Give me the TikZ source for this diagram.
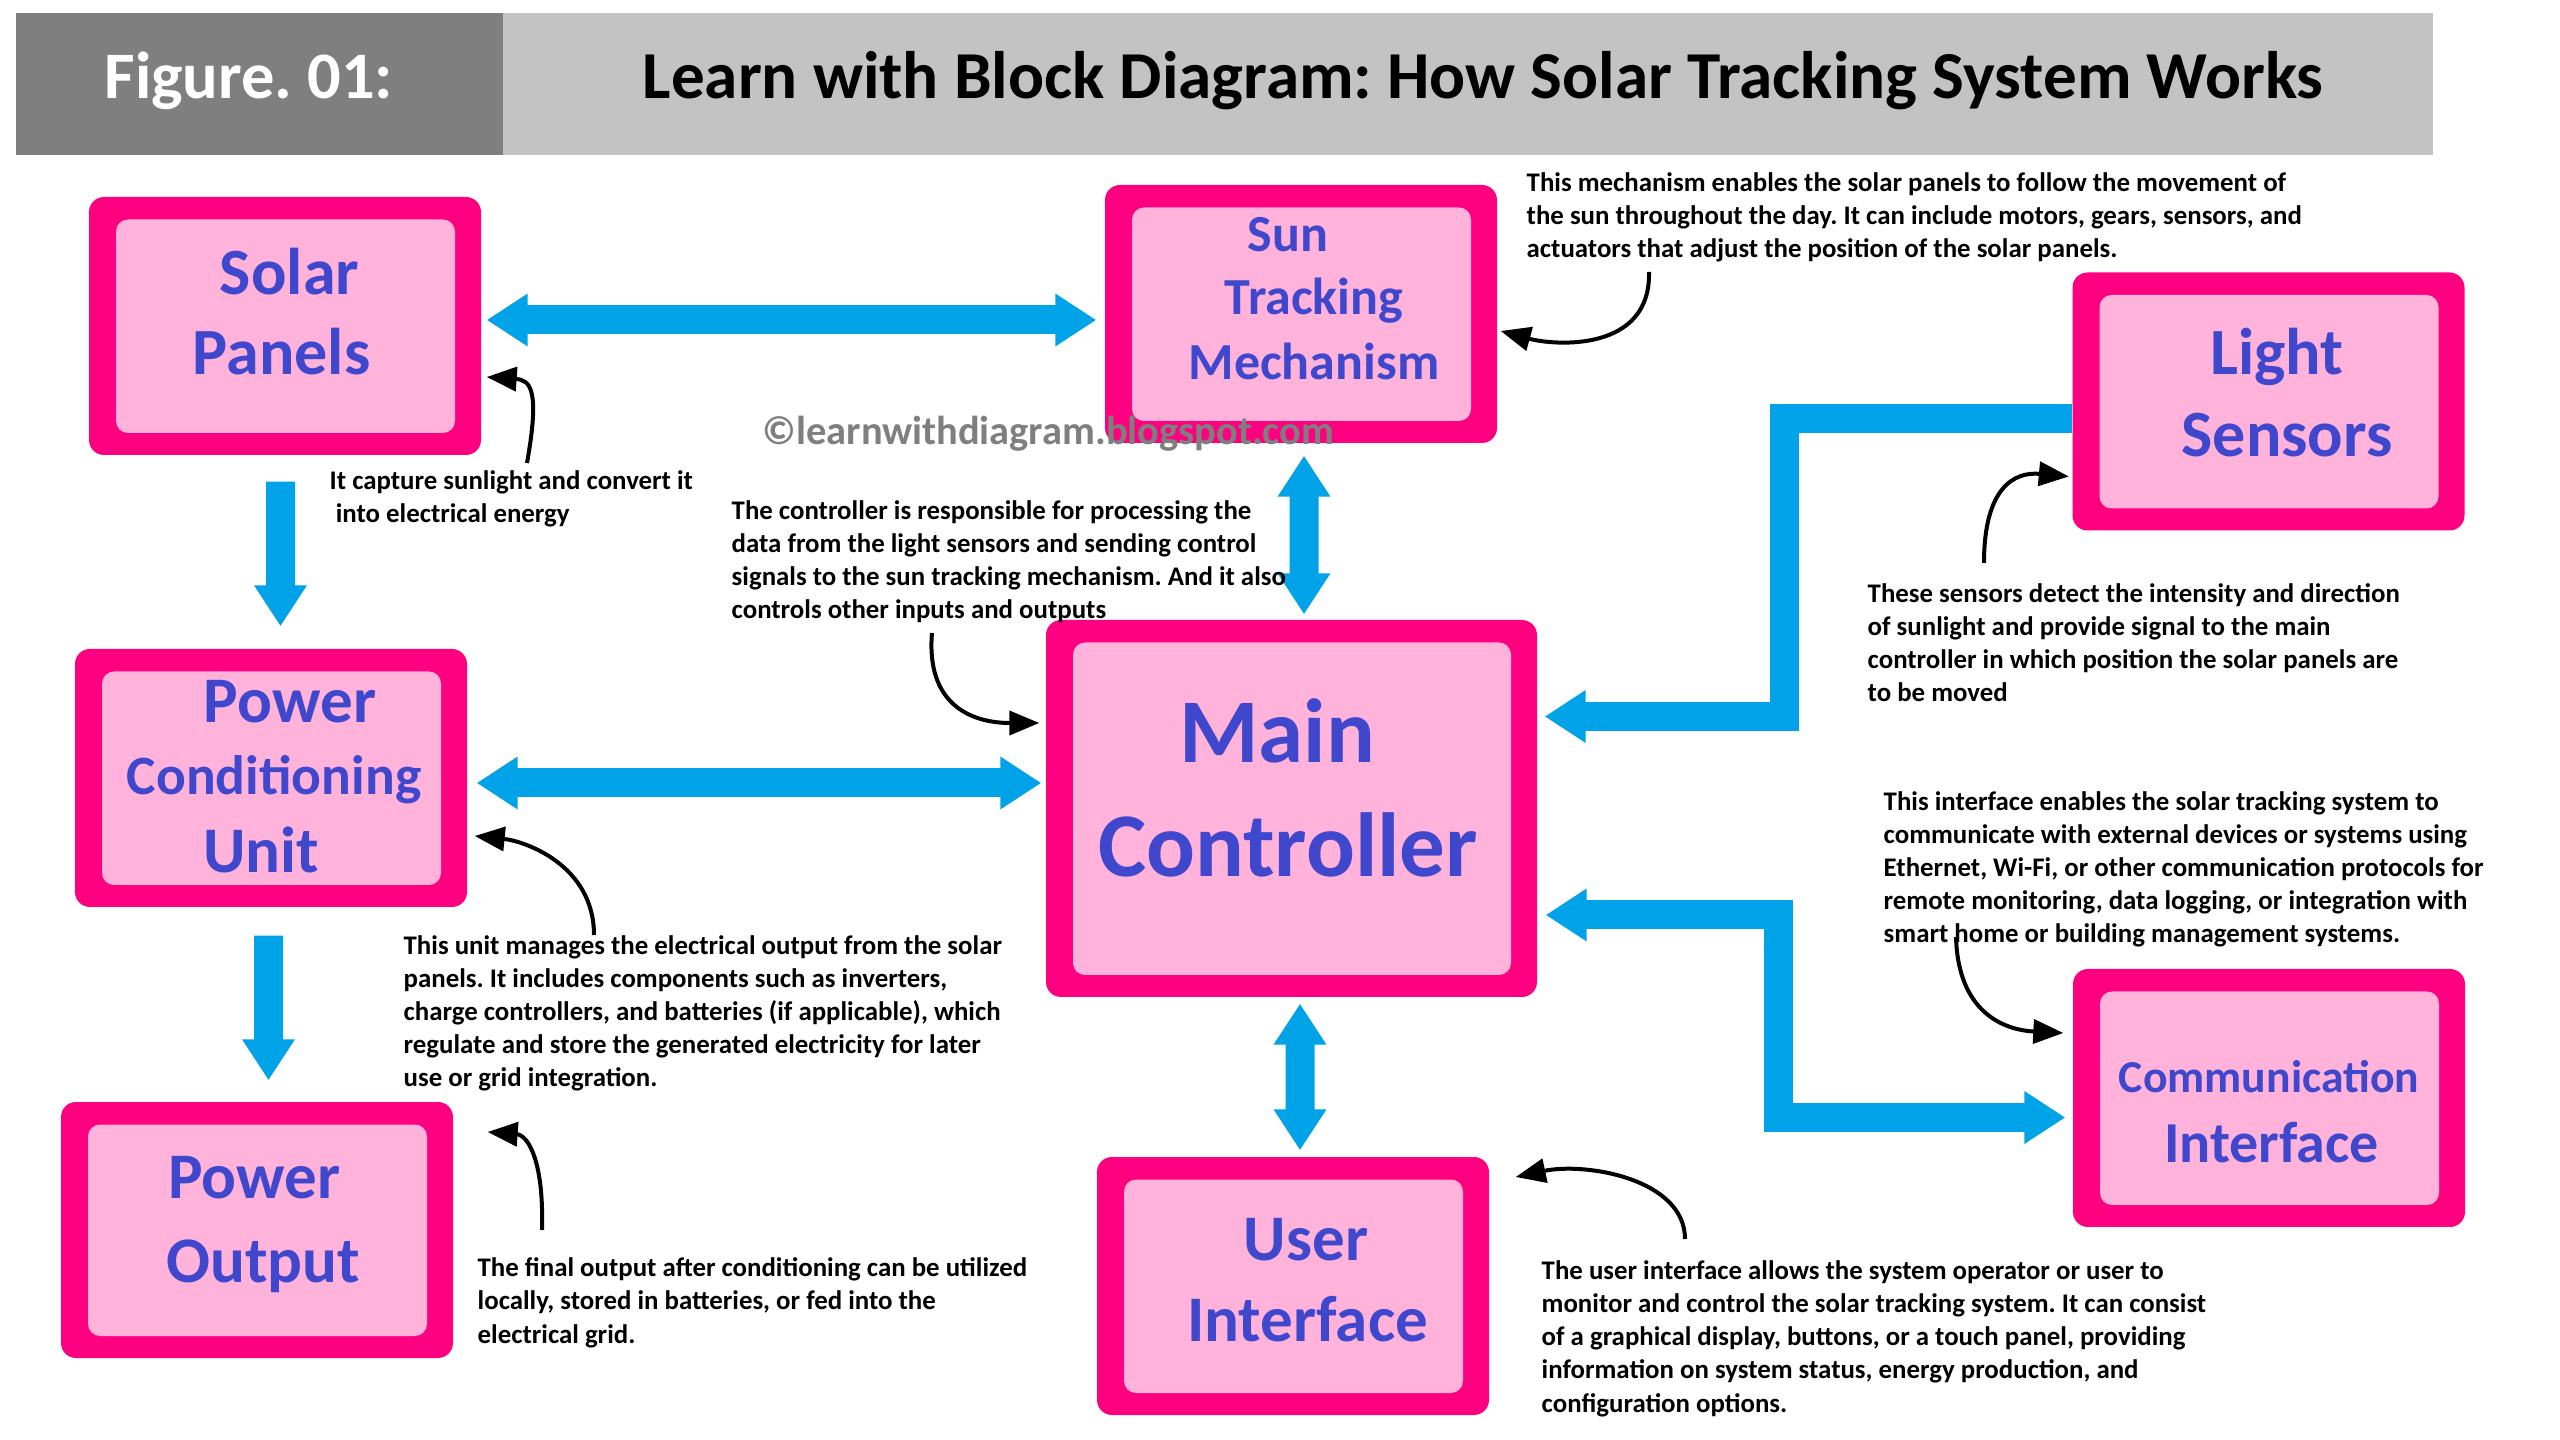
\documentclass[tikz,border=0pt]{standalone}
\usepackage{fontspec}
\setmainfont{Carlito}
\usetikzlibrary{arrows.meta,calc}

\definecolor{bdr}{RGB}{255,0,128}
\definecolor{inpink}{RGB}{255,178,218}
\definecolor{txtblue}{RGB}{63,72,204}
\definecolor{flowblue}{RGB}{0,162,232}
\definecolor{hdrdark}{RGB}{127,127,127}
\definecolor{hdrlight}{RGB}{195,195,195}

\newcommand{\fsz}[1]{\fontsize{#1}{#1}\selectfont\bfseries}
\frenchspacing

\tikzset{
  blk/.style={fill=bdr, rounded corners=1.5mm, minimum width=39.2mm, minimum height=25.8mm, inner sep=0pt,
    path picture={\fill[inpink, rounded corners=1.2mm]
      ([xshift=2.7mm,yshift=-2.25mm]path picture bounding box.north west) rectangle
      ([xshift=-2.6mm,yshift=2.2mm]path picture bounding box.south east);}},
  lbl/.style={text=txtblue, anchor=base, inner sep=0pt},
  note/.style={align=left, anchor=base west, inner sep=0pt, font=\fontsize{7.64}{9.39}\selectfont\bfseries},
  flow/.style={draw=flowblue, line width=2.9mm},
  bigtip/.tip={Triangle[length=4.1mm,width=5mm]},
  curl/.style={line width=0.4mm, -{Triangle[length=3mm,width=2.4mm]}}
}

\begin{document}
\begin{tikzpicture}[x=0.1mm,y=-0.1mm]
\useasboundingbox (0,0) rectangle (2560,1440);

% header
\fill[hdrdark] (16,13) rectangle (503,155);
\fill[hdrlight] (503,13) rectangle (2433,155);
\node[anchor=base, inner sep=0pt, text=white, font=\fsz{18.9}] (fig) at (249,99) {Figure. 01:};
\node[anchor=base, inner sep=0pt, font=\fsz{19.1}] (title) at (1483,99) {Learn with Block Diagram: How Solar Tracking System Works};

% blocks
\node[blk] (solar) at (285,326) {};
\node[blk] (sun) at (1301,314) {};
\node[blk] (light) at (2268.5,401.5) {};
\node[blk, minimum width=49.1mm, minimum height=37.7mm] (main) at (1291.5,808.5) {};
\node[blk] (pcu) at (271,778) {};
\node[blk, minimum height=25.6mm] (output) at (257,1230) {};
\node[blk] (user) at (1293,1286) {};
\node[blk] (comm) at (2269,1098) {};

% block texts
\node[lbl, font=\fsz{18.8}] (solarA) at (289.5,295) {Solar};
\node[lbl, font=\fsz{18.8}] (solarB) at (281.5,375) {Panels};
\node[lbl, font=\fsz{14.8}] (sunA) at (1288,252) {Sun};
\node[lbl, font=\fsz{14.8}] (sunB) at (1314,315) {Tracking};
\node[lbl, font=\fsz{14.8}] (sunC) at (1314,380) {Mechanism};
\node[lbl, font=\fsz{18.8}] (lightA) at (2277,375) {Light};
\node[lbl, font=\fsz{18.8}] (lightB) at (2287,457) {Sensors};
\node[lbl, font=\fsz{25.9}] (mainA) at (1277,763) {Main};
\node[lbl, font=\fsz{25.9}] (mainB) at (1288,877) {Controller};
\node[lbl, font=\fsz{18.5}] (pcuA) at (290,723) {Power};
\node[lbl, font=\fsz{15.8}] (pcuB) at (274,795) {Conditioning};
\node[lbl, font=\fsz{18.5}] (pcuC) at (261,873) {Unit};
\node[lbl, font=\fsz{18.5}] (outA) at (254.5,1199) {Power};
\node[lbl, font=\fsz{18.5}] (outB) at (263,1282) {Output};
\node[lbl, font=\fsz{18.5}] (userA) at (1306,1260) {User};
\node[lbl, font=\fsz{18.5}] (userB) at (1307.5,1342) {Interface};
\node[lbl, font=\fsz{13}] (commA) at (2269,1093) {Communication};
\node[lbl, font=\fsz{16.5}] (commB) at (2271.5,1162) {Interface};

\node[anchor=base west, inner sep=0pt, text=hdrdark, font=\fsz{11.5}] (mark) at (762,445) {©learnwithdiagram.blogspot.com};

% blue flows
\draw[flow, {bigtip}-{bigtip}] ($(solar.east)+(5,-6)$) -- ($(sun.west)+(-8,6)$);
\draw[flow, {bigtip}-{bigtip}] ($(sun.south)+(3,12)$) -- ($(main.north)+(12.5,-5)$);
\draw[flow, {bigtip}-{bigtip}] ($(pcu.east)+(9,5)$) -- ($(main.west)+(-4,-25.5)$);
\draw[flow, {bigtip}-{bigtip}] ($(main.south)+(8.5,6)$) -- ($(user.north)+(7,-6)$);
\draw[flow, -{bigtip}] ($(solar.south)+(-4.5,26)$) -- ($(pcu.north)+(9.5,-22)$);
\draw[flow, -{bigtip}] ($(pcu.south)+(-2.5,28)$) -- ($(output.north)+(11.5,-21)$);
\draw[flow, -{bigtip}] ($(light.west)+(0,17)$) -- ++(-287,0) |- ($(main.east)+(7,-92)$);
\draw[flow, {bigtip}-{bigtip}] ($(main.east)+(8,106.5)$) -- ++(233,0) |- ($(comm.west)+(-7,19.5)$);

% notes (placed at the baseline of their last line)
\node[note] (sunnote) at (1526,258) {This mechanism enables the solar panels to follow the movement of\\the sun throughout the day. It can include motors, gears, sensors, and\\actuators that adjust the position of the solar panels.};
\node[note] (solarnote) at (329,523) {It capture sunlight and convert it\\\hspace*{0.23em}into electrical energy};
\node[note] (mainnote) at (731,619) {The controller is responsible for processing the\\data from the light sensors and sending control\\signals to the sun tracking mechanism. And it also\\controls other inputs and outputs};
\node[note] (lightnote) at (1867,702) {These sensors detect the intensity and direction\\of sunlight and provide signal to the main\\controller in which position the solar panels are\\to be moved};
\node[note] (commnote) at (1883,943) {This interface enables the solar tracking system to\\communicate with external devices or systems using\\Ethernet, Wi-Fi, or other communication protocols for\\remote monitoring, data logging, or integration with\\smart home or building management systems.};
\node[note] (pcunote) at (403,1087) {This unit manages the electrical output from the solar\\panels. It includes components such as inverters,\\charge controllers, and batteries (if applicable), which\\regulate and store the generated electricity for later\\use or grid integration.};
\node[note] (outnote) at (477,1343) {The final output after conditioning can be utilized\\locally, stored in batteries, or fed into the\\electrical grid.};
\node[note] (usernote) at (1541,1412) {The user interface allows the system operator or user to\\monitor and control the solar tracking system. It can consist\\of a graphical display, buttons, or a touch panel, providing\\information on system status, energy production, and\\configuration options.};

% pointers
\coordinate (c1) at (1649,272);
\coordinate (c2) at (527,463);
\coordinate (c3) at (932,633);
\coordinate (c4) at (1984,563);
\coordinate (c5) at (1956,937);
\coordinate (c6) at (594,935);
\coordinate (c7) at (542,1230);
\coordinate (c8) at (1685,1239);
\draw[curl] (c1) .. controls +(2,80) and +(55,15) .. ($(sun.east)+(3,17)$);
\draw[curl] (c2) .. controls +(13,-73) and +(44,3) .. ($(solar.east)+(5,51)$);
\draw[curl] (c3) .. controls +(-6,70) and +(-70,0) .. ($(main.west)+(-6,-85.5)$);
\draw[curl] (c4) .. controls +(0,-75) and +(-55,-5) .. ($(light.west)+(-3,75)$);
\draw[curl] (c5) .. controls +(2,75) and +(-60,-3) .. ($(comm.west)+(-9,-65)$);
\draw[curl] (c6) .. controls +(0,-70) and +(50,5) .. ($(pcu.east)+(7,58)$);
\draw[curl] (c7) .. controls +(2,-70) and +(40,3) .. ($(output.east)+(34,-98)$);
\draw[curl] (c8) .. controls +(0,-60) and +(70,-15) .. ($(user.east)+(26,-109)$);
\end{tikzpicture}
\end{document}
